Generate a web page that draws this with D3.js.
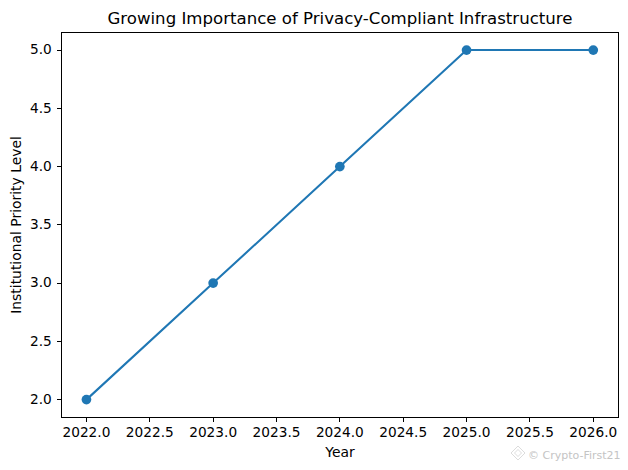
<!DOCTYPE html>
<html><head><meta charset="utf-8">
<script src="https://cdn.jsdelivr.net/npm/d3@7"></script>
<style>html,body{margin:0;padding:0;background:#fff}svg{display:block}text{font-family:"DejaVu Sans",sans-serif;fill:#000}</style>
</head><body><svg id="c" width="628" height="470"></svg>
<script>
const years = [2022, 2023, 2024, 2025, 2026];
const priority = [2, 3, 4, 5, 5];
const xTicks = [2022, 2022.5, 2023, 2023.5, 2024, 2024.5, 2025, 2025.5, 2026];
const yTicks = [2, 2.5, 3, 3.5, 4, 4.5, 5];
const title = "Growing Importance of Privacy-Compliant Infrastructure";
const xLabel = "Year";
const yLabel = "Institutional Priority Level";
const watermark = "© Crypto-First21";

const L = 61.5, R = 618.5, T = 32.5, B = 417.5;
const svg = d3.select("#c");
const x = d3.scaleLinear().domain([2021.8, 2026.2]).range([61.1, 618.6]);
const y = d3.scaleLinear().domain([1.85, 5.15]).range([417.1, 32.6]);

const xAxis = svg.append("g").attr("transform", `translate(0,${B})`)
  .call(d3.axisBottom(x).offset(0).tickValues(xTicks).tickFormat(d3.format(".1f")).tickSize(4.86).tickPadding(4.86));
const yAxis = svg.append("g").attr("transform", `translate(${L},0)`)
  .call(d3.axisLeft(y).offset(0).tickValues(yTicks).tickFormat(d3.format(".1f")).tickSize(4.86).tickPadding(4.86));
for (const a of [xAxis, yAxis]) {
  a.select(".domain").remove();
  a.selectAll("line").attr("stroke", "#000").attr("stroke-width", 1.11).attr("shape-rendering", "crispEdges");
  a.selectAll("text").attr("font-size", 13.7).attr("font-family", '"DejaVu Sans"').attr("fill", "#000");
}

const line = d3.line().x((d, i) => x(years[i])).y(d => y(d));
svg.append("path").datum(priority).attr("d", line).attr("fill", "none")
  .attr("stroke", "#1f77b4").attr("stroke-width", 2.08);
svg.selectAll("circle.pt").data(priority).join("circle").attr("class", "pt")
  .attr("cx", (d, i) => x(years[i])).attr("cy", d => y(d)).attr("r", 4.86).attr("fill", "#1f77b4");

svg.append("rect").attr("x", L).attr("y", T).attr("width", R - L).attr("height", B - T)
  .attr("fill", "none").attr("stroke", "#000").attr("stroke-width", 1.11).attr("shape-rendering", "crispEdges");

svg.append("text").attr("x", (L + R) / 2).attr("y", 23.5).attr("text-anchor", "middle").attr("font-size", 16.6).text(title);
svg.append("text").attr("x", (L + R) / 2).attr("y", 456.5).attr("text-anchor", "middle").attr("font-size", 13.9).text(xLabel);
svg.append("text").attr("transform", `translate(20.5,${(T + B) / 2}) rotate(-90)`).attr("text-anchor", "middle").attr("font-size", 13.9).text(yLabel);

svg.append("path").attr("d", "M518 446 l7 7 l-7 7 l-7 -7 z M518 449.5 l3.5 3.5 l-3.5 3.5 l-3.5 -3.5 z")
  .attr("fill", "none").attr("stroke", "#d8d8d8").attr("stroke-width", 0.9);
svg.append("text").attr("x", 528).attr("y", 459).attr("font-size", 11).style("fill", "#c4c4c4").text(watermark);
</script></body></html>
